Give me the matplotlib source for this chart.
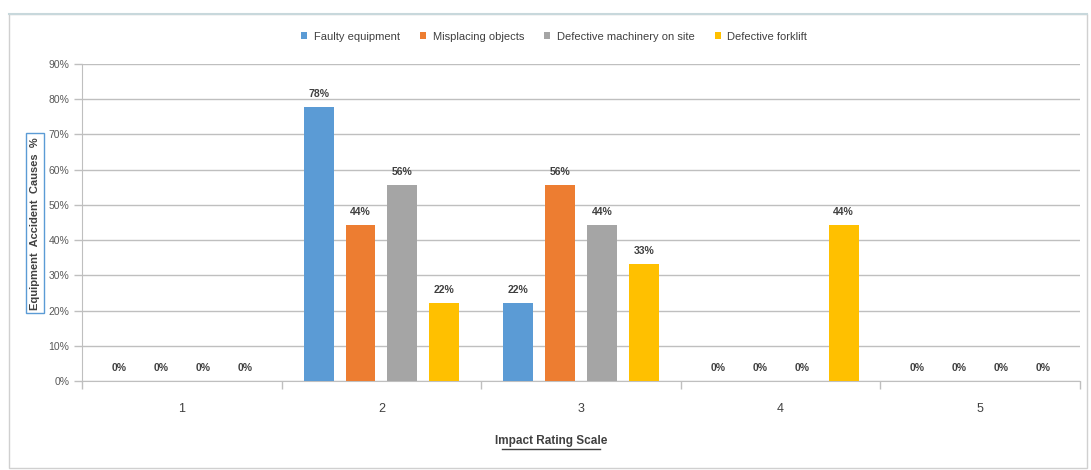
import matplotlib
matplotlib.use("Agg")
import matplotlib.pyplot as plt
from matplotlib.patches import Rectangle
import numpy as np

plt.rcParams['font.family'] = ['Liberation Sans Narrow', 'Liberation Sans', 'DejaVu Sans']

categories = ["1", "2", "3", "4", "5"]
series_names = ["Faulty equipment", "Misplacing objects", "Defective machinery on site", "Defective forklift"]
faulty = [0, 77.8, 22.2, 0, 0]
misplacing = [0, 44.4, 55.6, 0, 0]
machinery = [0, 55.6, 44.4, 0, 0]
forklift = [0, 22.2, 33.3, 44.4, 0]
colors = ["#5B9BD5", "#ED7D31", "#A5A5A5", "#FFC000"]
yticks = [0, 10, 20, 30, 40, 50, 60, 70, 80, 90]

fig = plt.figure(figsize=(10.91, 4.70), dpi=100)
ax = fig.add_axes([0.0752, 0.189, 0.9148, 0.675])

series = [faulty, misplacing, machinery, forklift]
x = np.arange(len(categories))
step = 0.21
width = 0.15
for i, (vals, c, name) in enumerate(zip(series, colors, series_names)):
    pos = x + (i - 1.5) * step
    ax.bar(pos, vals, width, color=c, label=name, zorder=3)
    for p, v in zip(pos, vals):
        ax.text(p, v + 2.2, f"{round(v):d}%", ha='center', va='bottom',
                fontsize=7.5, fontweight='bold', color='#404040', zorder=4)

ax.set_xlim(-0.5, 4.5)
ax.set_ylim(0, 90)
ax.set_yticks(yticks)
ax.set_yticklabels([f"{t}%" for t in yticks], fontsize=7.5, color='#595959')
ax.yaxis.grid(True, color='#BFBFBF', linewidth=1, zorder=0)
ax.set_xticks(x)
ax.set_xticklabels(categories, fontsize=9, color='#404040')
ax.tick_params(axis='x', length=0, pad=16)
ax.tick_params(axis='y', length=6, color='#BFBFBF', width=1, direction='out', pad=3)
ax.set_xticks(np.arange(-0.5, 5.0, 1.0), minor=True)
ax.tick_params(axis='x', which='minor', length=6, color='#BFBFBF', width=1)
for s in ['top', 'right']:
    ax.spines[s].set_visible(False)
ax.spines['left'].set_color('#BFBFBF')
ax.spines['bottom'].set_color('#BFBFBF')

fig.text(0.505, 0.062, "Impact Rating Scale", ha='center', va='center',
         fontsize=8.5, fontweight='bold', color='#404040')
fig.add_artist(plt.Line2D([0.460, 0.550], [0.045, 0.045], color='#404040', linewidth=1))

fig.text(0.032, 0.525, "Equipment  Accident  Causes  %", rotation=90, ha='center', va='center',
         fontsize=8, fontweight='bold', color='#404040',
         bbox=dict(boxstyle='square,pad=0.35', fc='white', ec='#5B9BD5', lw=1))

leg = fig.legend(loc='center', bbox_to_anchor=(0.508, 0.922), ncol=4, frameon=False,
                 fontsize=8, handlelength=0.55, handleheight=0.55, columnspacing=1.8,
                 handletextpad=0.6)
for t in leg.get_texts():
    t.set_color('#404040')

fig.add_artist(Rectangle((0.008, 0.005), 0.988, 0.965, transform=fig.transFigure,
                         fill=False, ec='#D0D0D0', lw=1))
fig.add_artist(plt.Line2D([0.008, 0.996], [0.97, 0.97], color='#C8D8DC', linewidth=1.5))

fig.savefig("out.png", dpi=100)
